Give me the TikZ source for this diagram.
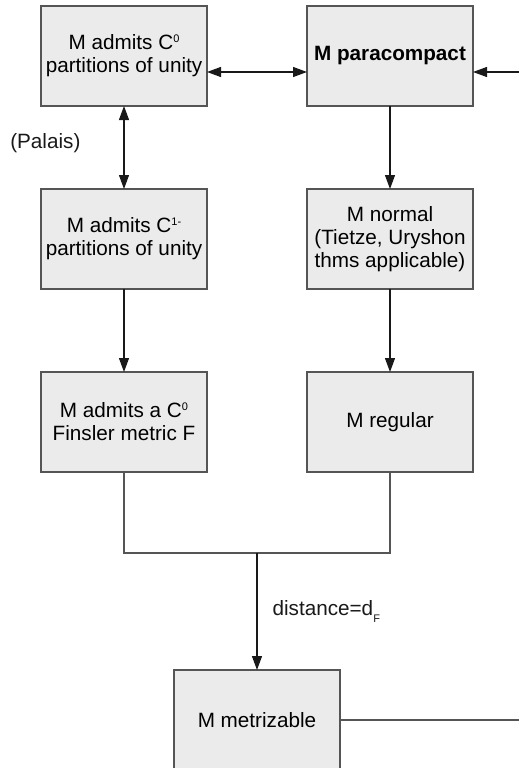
\documentclass[tikz,border=0pt]{standalone}
\usepackage{fontspec}
\setmainfont{Liberation Sans}
\usepackage{tikz}
\usetikzlibrary{arrows.meta, positioning}
\definecolor{boxfill}{RGB}{235,235,235}
\definecolor{boxline}{RGB}{85,85,85}
\definecolor{linedark}{RGB}{25,25,25}
\newcommand{\figfont}{\fontsize{20.7}{23}\selectfont}
% small raised / lowered index text
\newcommand{\upidx}[1]{\raisebox{7pt}{\fontsize{11}{11}\selectfont #1}}
\newcommand{\dnidx}[1]{\raisebox{-7pt}{\fontsize{11}{11}\selectfont #1}}
\tikzset{
  box/.style={rectangle, draw=boxline, fill=boxfill, line width=1.4pt, minimum width=166pt,
    minimum height=100pt, align=center, font=\figfont, outer sep=0pt, inner sep=2pt},
  arr/.style={-{Triangle[length=14pt,width=10pt]}, line width=1.1pt, color=linedark},
  darr/.style={{Triangle[length=14pt,width=10pt]}-{Triangle[length=14pt,width=10pt]}, line width=1.1pt, color=linedark},
  line/.style={line width=1.3pt, color=boxline}
}
\begin{document}
\begin{tikzpicture}[x=1pt, y=1pt,
  lbl/.style={font=\figfont, inner sep=0pt}
]
\useasboundingbox (0,0) rectangle (519,-768);
%--- left column ---
\node[box] (pu0) at (124,-56) {M admits C\upidx{0}\\partitions of unity};
\node[box, below=83pt of pu0] (pu1) {M admits C\upidx{1-}\\partitions of unity};
\node[box, below=83pt of pu1] (fins) {M admits a C\upidx{0}\\Finsler metric F};
\draw[darr] (pu0) -- node[lbl, left=43pt, yshift=4pt] {(Palais)} (pu1);
\draw[arr] (pu1) -- (fins);

%--- right column ---
\node[box, font=\figfont\bfseries] (para) at (390,-56) {M paracompact};
\node[box, below=83pt of para] (norm) {M normal\\(Tietze, Uryshon\\thms applicable)};
\node[box, below=83pt of norm] (regl) {M regular};
\draw[arr] (para) -- (norm);
\draw[arr] (norm) -- (regl);

% link between columns, and the feed from the right
\draw[darr] ([yshift=-16pt]pu0.east) -- ([yshift=-16pt]para.west);
\coordinate (rin) at (519,-72);
\draw[arr] (rin) -- (para.east |- rin);

%--- both columns join into metrizable ---
\node[box] (metr) at (257,-720) {M metrizable};
\draw[line] (fins.south) -- ++(0,-81) coordinate (jl) -| (regl.south);
\draw[arr] (metr.north |- jl) -- node[lbl, right=15pt] {distance=d\dnidx{F}} (metr);
\coordinate (rout) at (519,-720);
\draw[line] (metr.east) -- (rout);
\end{tikzpicture}
\end{document}
